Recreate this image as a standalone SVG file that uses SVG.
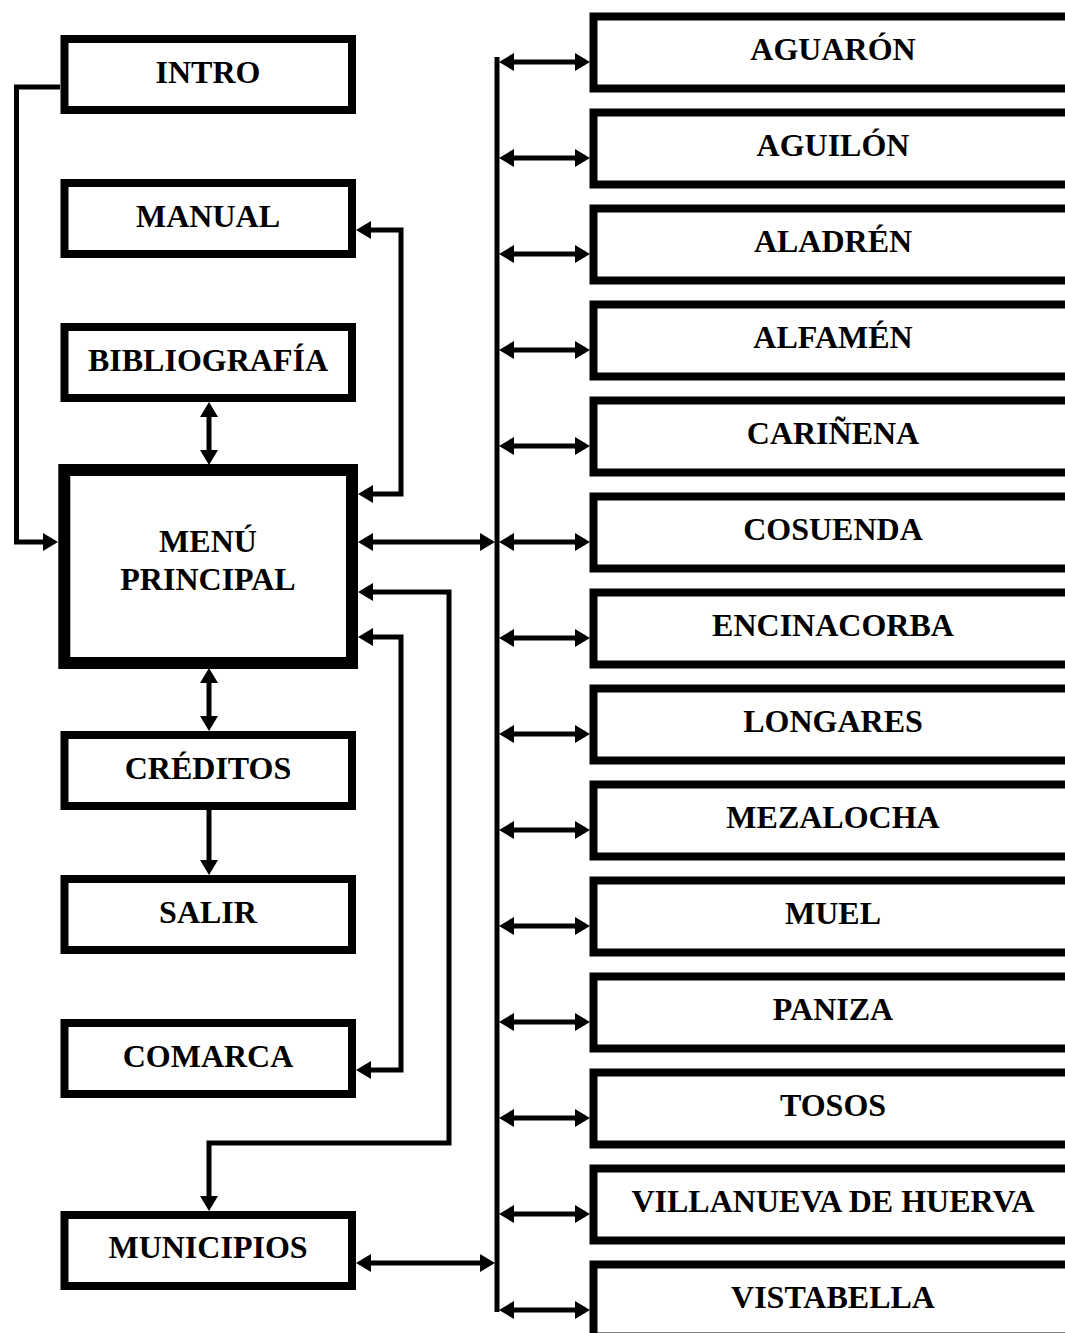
<svg xmlns="http://www.w3.org/2000/svg" width="1065" height="1333" viewBox="0 0 1065 1333">
<style>
.box{fill:#fff;stroke:#000;stroke-width:8}
.main{fill:#fff;stroke:#000;stroke-width:12}
.t{font-family:"Liberation Serif","Times New Roman",serif;font-weight:bold;font-size:32px;text-anchor:middle;fill:#000}
.c{fill:none;stroke:#000;stroke-width:5}
.a1{marker-end:url(#ah)}
.a2{marker-start:url(#ah);marker-end:url(#ah)}
</style>
<defs>
<marker id="ah" markerUnits="userSpaceOnUse" viewBox="0 0 15 18" markerWidth="15" markerHeight="18" refX="2" refY="9" orient="auto-start-reverse">
<path d="M0,0 L15,9 L0,18 z" fill="#000"/>
</marker>
</defs>
<rect width="1065" height="1333" fill="#fff"/>
<g id="intro"><rect class="box" x="64.5" y="39" width="287.5" height="71"/><text class="t" x="208" y="83">INTRO</text></g>
<g id="manual"><rect class="box" x="64.5" y="183" width="287.5" height="71"/><text class="t" x="208" y="227">MANUAL</text></g>
<g id="bibliografia"><rect class="box" x="64.5" y="327" width="287.5" height="71"/><text class="t" x="208" y="371">BIBLIOGRAFÍA</text></g>
<g id="menu"><rect class="main" x="64.3" y="470" width="287.7" height="193"/><text class="t" x="208" y="552">MENÚ</text><text class="t" x="208" y="590">PRINCIPAL</text></g>
<g id="creditos"><rect class="box" x="64.5" y="735" width="287.5" height="71"/><text class="t" x="208" y="779">CRÉDITOS</text></g>
<g id="salir"><rect class="box" x="64.5" y="879" width="287.5" height="71"/><text class="t" x="208" y="923">SALIR</text></g>
<g id="comarca"><rect class="box" x="64.5" y="1023" width="287.5" height="71"/><text class="t" x="208" y="1067">COMARCA</text></g>
<g id="municipios"><rect class="box" x="64.5" y="1215" width="287.5" height="71"/><text class="t" x="208" y="1258">MUNICIPIOS</text></g>
<g id="aguaron"><rect class="box" x="593.5" y="16.5" width="600" height="72"/><text class="t" x="833" y="60">AGUARÓN</text></g>
<g id="aguilon"><rect class="box" x="593.5" y="112.5" width="600" height="72"/><text class="t" x="833" y="156">AGUILÓN</text></g>
<g id="aladren"><rect class="box" x="593.5" y="208.5" width="600" height="72"/><text class="t" x="833" y="252">ALADRÉN</text></g>
<g id="alfamen"><rect class="box" x="593.5" y="304.5" width="600" height="72"/><text class="t" x="833" y="348">ALFAMÉN</text></g>
<g id="carinena"><rect class="box" x="593.5" y="400.5" width="600" height="72"/><text class="t" x="833" y="444">CARIÑENA</text></g>
<g id="cosuenda"><rect class="box" x="593.5" y="496.5" width="600" height="72"/><text class="t" x="833" y="540">COSUENDA</text></g>
<g id="encinacorba"><rect class="box" x="593.5" y="592.5" width="600" height="72"/><text class="t" x="833" y="636">ENCINACORBA</text></g>
<g id="longares"><rect class="box" x="593.5" y="688.5" width="600" height="72"/><text class="t" x="833" y="732">LONGARES</text></g>
<g id="mezalocha"><rect class="box" x="593.5" y="784.5" width="600" height="72"/><text class="t" x="833" y="828">MEZALOCHA</text></g>
<g id="muel"><rect class="box" x="593.5" y="880.5" width="600" height="72"/><text class="t" x="833" y="924">MUEL</text></g>
<g id="paniza"><rect class="box" x="593.5" y="976.5" width="600" height="72"/><text class="t" x="833" y="1020">PANIZA</text></g>
<g id="tosos"><rect class="box" x="593.5" y="1072.5" width="600" height="72"/><text class="t" x="833" y="1116">TOSOS</text></g>
<g id="villanueva"><rect class="box" x="593.5" y="1168.5" width="600" height="72"/><text class="t" x="833" y="1212">VILLANUEVA DE HUERVA</text></g>
<g id="vistabella"><rect class="box" x="593.5" y="1264.5" width="600" height="72"/><text class="t" x="833" y="1308">VISTABELLA</text></g>
<g id="connectors">
<path class="c a1" d="M60,87 H16.5 V542 H45"/>
<path class="c a2" d="M369,230 H401 V494 H371"/>
<path class="c a2" d="M209,415 V452"/>
<path class="c a2" d="M209,681 V718"/>
<path class="c a1" d="M209,810 V862"/>
<path class="c a2" d="M371,542 H482"/>
<path class="c a2" d="M371,592 H449 V1143 H209 V1198"/>
<path class="c a2" d="M371,637 H401 V1070 H369"/>
<path class="c a2" d="M369,1263 H482"/>
<path class="c" d="M497,57 V1312"/>
<path class="c a2" d="M512,62 H577"/>
<path class="c a2" d="M512,158 H577"/>
<path class="c a2" d="M512,254 H577"/>
<path class="c a2" d="M512,350 H577"/>
<path class="c a2" d="M512,446 H577"/>
<path class="c a2" d="M512,542 H577"/>
<path class="c a2" d="M512,638 H577"/>
<path class="c a2" d="M512,734 H577"/>
<path class="c a2" d="M512,830 H577"/>
<path class="c a2" d="M512,926 H577"/>
<path class="c a2" d="M512,1022 H577"/>
<path class="c a2" d="M512,1118 H577"/>
<path class="c a2" d="M512,1214 H577"/>
<path class="c a2" d="M512,1310 H577"/>
</g>
</svg>
